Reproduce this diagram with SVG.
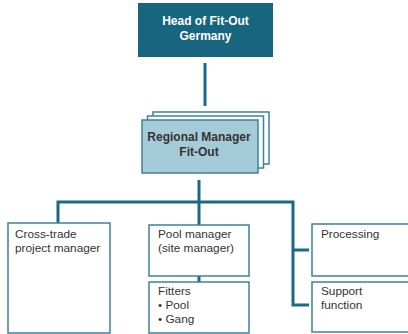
<svg xmlns="http://www.w3.org/2000/svg" width="408" height="334" viewBox="0 0 408 334">
<style>
.conn{fill:none;stroke:#186a86;stroke-width:3}
.box{fill:#ffffff;stroke:#3b8299;stroke-width:1.5}
.page{fill:#ffffff;stroke:#3b8299;stroke-width:1.5}
.t{font-family:"Liberation Sans",Arial,sans-serif;font-size:11.8px;fill:#333333}
.tb{font-family:"Liberation Sans",Arial,sans-serif;font-size:12px;font-weight:bold;text-anchor:middle}
</style>
<rect width="408" height="334" fill="#ffffff"/>
<g id="connectors">
<line class="conn" x1="205" y1="63" x2="205" y2="106"/>
<line class="conn" x1="199" y1="180" x2="199" y2="225"/>
<polyline class="conn" points="58,223 58,202 293,202 293,305 309,305"/>
<line class="conn" x1="293" y1="250" x2="309" y2="250"/>
<line class="conn" x1="199" y1="276" x2="199" y2="282"/>
</g>
<g id="head">
<rect x="138" y="3" width="135" height="54" fill="#17657f"/>
<text class="tb" x="205.5" y="25" fill="#ffffff">Head of Fit-Out</text>
<text class="tb" x="205.5" y="39.5" fill="#ffffff">Germany</text>
</g>
<g id="regional">
<rect class="page" x="153" y="112" width="116" height="52"/>
<rect class="page" x="147.5" y="116" width="116" height="52"/>
<rect x="142" y="120" width="116" height="53" fill="#a6cbd8" stroke="#3b8299" stroke-width="1.5"/>
<text class="tb" x="199" y="141" fill="#333333">Regional Manager</text>
<text class="tb" x="199" y="155.5" fill="#333333">Fit-Out</text>
</g>
<g id="cross-trade">
<rect class="box" x="8" y="223" width="102" height="110"/>
<text class="t" x="15" y="238">Cross-trade</text>
<text class="t" x="15" y="252">project manager</text>
</g>
<g id="pool-manager">
<rect class="box" x="149" y="225" width="100" height="51"/>
<text class="t" x="158" y="238">Pool manager</text>
<text class="t" x="158" y="252">(site manager)</text>
</g>
<g id="fitters">
<rect class="box" x="149" y="282" width="100" height="51"/>
<text class="t" x="158" y="295">Fitters</text>
<text class="t" x="158" y="309">• Pool</text>
<text class="t" x="158" y="323">• Gang</text>
</g>
<g id="processing">
<rect class="box" x="312" y="224" width="100" height="52"/>
<text class="t" x="321" y="238">Processing</text>
</g>
<g id="support">
<rect class="box" x="312" y="282" width="100" height="50"/>
<text class="t" x="321" y="295">Support</text>
<text class="t" x="321" y="309">function</text>
</g>
</svg>
